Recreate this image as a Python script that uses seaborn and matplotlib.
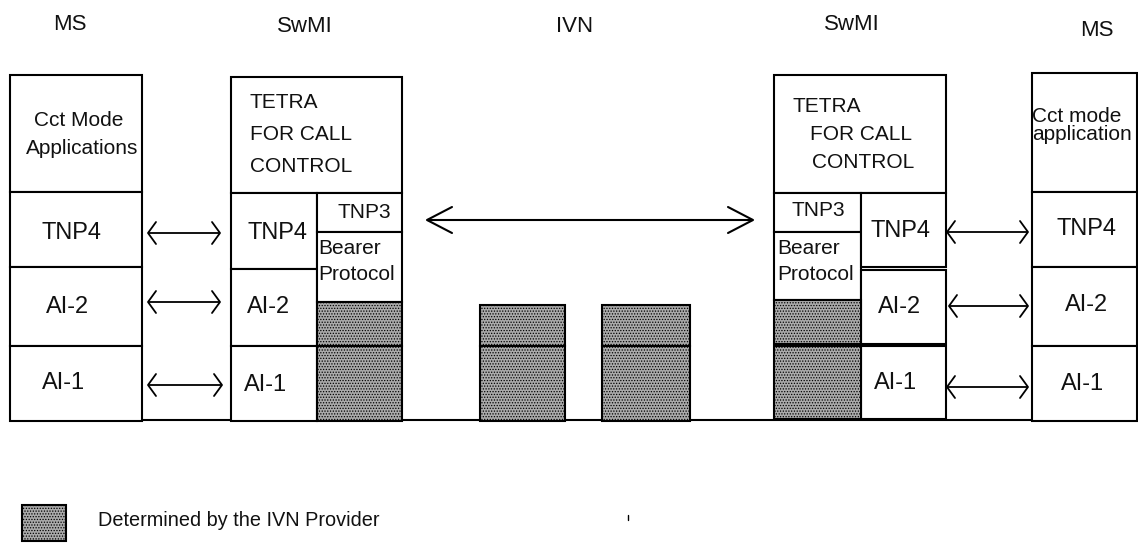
import matplotlib
matplotlib.use("Agg")
import matplotlib.pyplot as plt
from matplotlib.patches import Rectangle
import seaborn as sns

# ---------------- data ----------------
headers = ["MS", "SwMI", "IVN", "SwMI", "MS"]
header_x = [70, 305, 575, 852, 1097]
header_y = [25, 27, 27, 25, 31]

# plain protocol-layer boxes (x0, y0, x1, y1) in pixel space
plain_boxes = [
    (10, 75, 142, 192), (10, 192, 142, 267), (10, 267, 142, 346), (10, 346, 142, 421),
    (231, 77, 402, 193), (231, 193, 317, 269), (231, 269, 317, 346), (231, 346, 317, 421),
    (317, 193, 402, 232), (317, 232, 402, 302),
    (774, 75, 946, 193), (774, 193, 861, 232), (774, 232, 861, 300),
    (861, 193, 946, 267), (861, 270, 946, 344), (861, 346, 946, 419),
    (1032, 73, 1137, 192), (1032, 192, 1137, 267), (1032, 267, 1137, 346), (1032, 346, 1137, 421),
]
# boxes determined by the IVN provider
shaded_boxes = [
    (317, 302, 402, 346), (317, 346, 402, 421),
    (480, 305, 565, 346), (480, 346, 565, 421),
    (602, 305, 690, 346), (602, 346, 690, 421),
    (774, 300, 861, 344), (774, 346, 861, 419),
]

center_labels = ["TNP4", "AI-2", "AI-1", "TNP4", "TNP3", "AI-2", "AI-1",
                 "TNP3", "TNP4", "AI-2", "AI-1", "TNP4", "AI-2", "AI-1"]
center_x = [72, 68, 64, 278, 364, 269, 266, 818, 901, 900, 896, 1087, 1087, 1083]
center_y = [233, 307, 383, 233, 213, 307, 385, 211, 231, 307, 383, 229, 305, 384]
center_size = [17, 17, 17, 17, 15, 17, 17, 15, 17, 17, 17, 17, 17, 17]

left_labels = ["TETRA", "FOR CALL", "CONTROL", "Bearer", "Protocol",
               "TETRA", "FOR CALL", "CONTROL", "Bearer", "Protocol",
               "Cct mode", "application"]
left_x = [250, 250, 250, 318, 318, 793, 810, 812, 777, 777, 1032, 1032]
left_y = [103, 134, 166, 249, 275, 107, 135, 163, 249, 274, 117, 135]

app_labels = ["Cct Mode", "Applications"]
app_x = [79, 82]
app_y = [121, 149]

# double-headed arrows (x_start, x_end, y)
small_arrows = [(148, 220, 233), (148, 220, 302), (148, 222, 385),
                (947, 1028, 232), (949, 1028, 306), (947, 1028, 387)]
big_arrow = (427, 753, 220)

baseline = (142, 1138, 420)
legend_box = (22, 505, 66, 541)
legend_text = "Determined by the IVN Provider"
legend_pos = (98, 520)

# ---------------- drawing ----------------
sns.set_theme(style="white")
plt.rcParams["font.family"] = ["Liberation Sans", "DejaVu Sans"]
plt.rcParams["hatch.color"] = "#3e3e3e"
plt.rcParams["hatch.linewidth"] = 0.6

fig = plt.figure(figsize=(11.38, 5.44), dpi=100)
ax = fig.add_axes([0, 0, 1, 1])
ax.set_xlim(0, 1138)
ax.set_ylim(544, 0)
ax.axis("off")
sns.despine(ax=ax, left=True, bottom=True)

lw = 1.5
shade = "#aaaaaa"
ax.plot([baseline[0], baseline[1]], [baseline[2], baseline[2]], color="black", lw=lw, zorder=1)

for (x0, y0, x1, y1) in plain_boxes:
    ax.add_patch(Rectangle((x0, y0), x1 - x0, y1 - y0, facecolor="white",
                           edgecolor="black", lw=lw, zorder=2))
for (x0, y0, x1, y1) in shaded_boxes:
    ax.add_patch(Rectangle((x0, y0), x1 - x0, y1 - y0, facecolor=shade,
                           edgecolor="black", lw=lw, hatch="......", zorder=2))

def dbl_arrow(xa, xb, y, hl, hw, lwid):
    ax.plot([xa, xb], [y, y], color="black", lw=lwid, zorder=3, solid_capstyle="butt")
    ax.plot([xa + hl, xa, xa + hl], [y - hw, y, y + hw], color="black", lw=lwid, zorder=3)
    ax.plot([xb - hl, xb, xb - hl], [y - hw, y, y + hw], color="black", lw=lwid, zorder=3)

for (xa, xb, y) in small_arrows:
    dbl_arrow(xa, xb, y, 8, 11, 1.3)
dbl_arrow(big_arrow[0], big_arrow[1], big_arrow[2], 25, 13, 1.5)

for t, x, y in zip(headers, header_x, header_y):
    ax.text(x, y, t, ha="center", va="center", fontsize=16, color="#111111")
for t, x, y, s in zip(center_labels, center_x, center_y, center_size):
    ax.text(x, y, t, ha="center", va="center", fontsize=s, color="#111111", zorder=4)
for t, x, y in zip(left_labels, left_x, left_y):
    ax.text(x, y, t, ha="left", va="center", fontsize=15, color="#111111", zorder=4)
for t, x, y in zip(app_labels, app_x, app_y):
    ax.text(x, y, t, ha="center", va="center", fontsize=15, color="#111111", zorder=4)

lx0, ly0, lx1, ly1 = legend_box
ax.add_patch(Rectangle((lx0, ly0), lx1 - lx0, ly1 - ly0, facecolor=shade,
                       edgecolor="black", lw=lw, hatch="......", zorder=2))
ax.text(legend_pos[0], legend_pos[1], legend_text, ha="left", va="center",
        fontsize=14.3, color="#111111")
ax.plot([628, 628], [515, 520], color="black", lw=1.0)

fig.savefig("out.png", dpi=100)
